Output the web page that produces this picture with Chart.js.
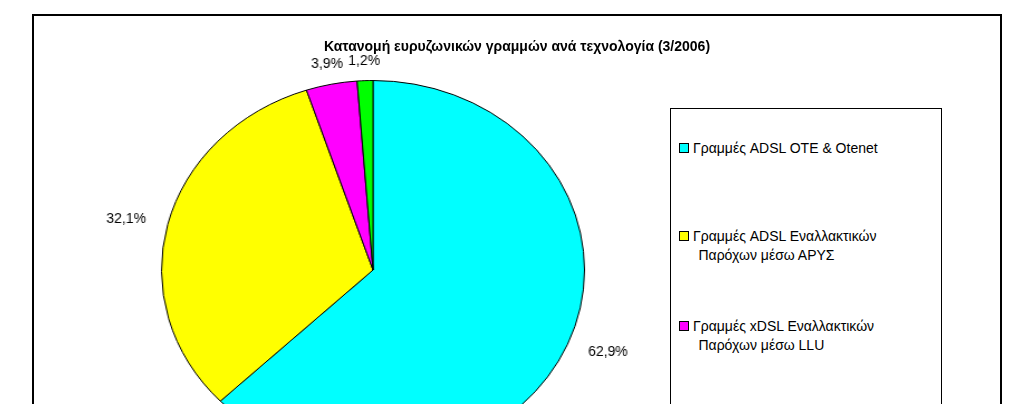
<!DOCTYPE html>
<html>
<head>
<meta charset="utf-8">
<script src="https://cdn.jsdelivr.net/npm/chart.js@4"></script>
<style>
  body { margin: 0; width: 1024px; height: 404px; overflow: hidden; background: #fff; font-family: "Liberation Sans", Arial, sans-serif; }
  #frame { position: absolute; left: 32px; top: 14px; width: 966px; height: 600px; border: 2px solid #000; }
  #title { position: absolute; left: 0; width: 966px; top: 22px; text-align: center; font-weight: bold; font-size: 14px; }
  #wrap { position: absolute; left: 0; top: 0; width: 966px; height: 600px; transform: scaleX(1.116); transform-origin: 339px 0; }
  #legend { position: absolute; left: 636px; top: 92px; width: 270px; height: 500px; border: 1px solid #000; font-size: 14px; background: #fff; }
  .item { position: absolute; left: 8px; line-height: 19px; }
  .sw { display: inline-block; width: 8px; height: 8px; border: 1px solid #000; margin-right: 4px; }
</style>
</head>
<body>
<div id="frame">
  <div id="wrap"><canvas id="pieChart"></canvas></div>
  <div id="title">Κατανομή ευρυζωνικών γραμμών ανά τεχνολογία (3/2006)</div>
  <div id="legend"></div>
</div>
<script>
const categories = ['Γραμμές ADSL ΟΤΕ & Otenet', 'Γραμμές ADSL Εναλλακτικών Παρόχων μέσω ΑΡΥΣ', 'Γραμμές xDSL Εναλλακτικών Παρόχων μέσω LLU', 'Άλλες τεχνολογίες'];
const legendLines = [['Γραμμές ADSL ΟΤΕ & Otenet'], ['Γραμμές ADSL Εναλλακτικών', 'Παρόχων μέσω ΑΡΥΣ'], ['Γραμμές xDSL Εναλλακτικών', 'Παρόχων μέσω LLU'], ['Άλλες τεχνολογίες']];
const shares = [62.9, 32.1, 3.9, 1.2];
const colors = ['#00FFFF', '#FFFF00', '#FF00FF', '#00FF00'];

// legend
const legendTops = [30, 118, 208, 298];
legendLines.forEach((lines, i) => {
    const d = document.createElement('div');
    d.className = 'item';
    d.style.top = legendTops[i] + 'px';
    d.innerHTML = '<span class="sw" style="background:' + colors[i] + '"></span>' + lines.join('<br>&nbsp;&nbsp;&nbsp;&nbsp;&nbsp;');
    document.getElementById('legend').appendChild(d);
});

const labelPlugin = {
    id: 'outLabels',
    afterDatasetsDraw(chart) {
        const ctx = chart.ctx;
        ctx.save();
        ctx.font = '14px "Liberation Sans", Arial, sans-serif';
        ctx.fillStyle = '#000';
        ctx.textBaseline = 'middle';
        chart.getDatasetMeta(0).data.forEach((arc, i) => {
            const mid = (arc.startAngle + arc.endAngle) / 2;
            const r = arc.outerRadius + 20;
            const x = arc.x + Math.cos(mid) * r;
            const y = arc.y + Math.sin(mid) * r;
            const c = Math.cos(mid);
            ctx.textAlign = c > 0.3 ? 'left' : (c < -0.3 ? 'right' : 'center');
            ctx.save();
            ctx.translate(x, y);
            ctx.scale(1 / 1.116, 1);
            ctx.fillText(shares[i].toFixed(1).replace('.', ',') + '%', 0, 0);
            ctx.restore();
        });
        ctx.restore();
    }
};

new Chart(document.getElementById('pieChart'), {
    type: 'pie',
    data: {
        labels: categories,
        datasets: [{ data: shares, backgroundColor: colors, borderColor: '#000', borderWidth: 1 }]
    },
    options: {
        responsive: true,
        maintainAspectRatio: false,
        animation: false,
        layout: { padding: { left: 149, top: 64, right: 437, bottom: 156 } },
        plugins: { legend: { display: false }, tooltip: { enabled: false } }
    },
    plugins: [labelPlugin]
});
</script>
</body>
</html>
